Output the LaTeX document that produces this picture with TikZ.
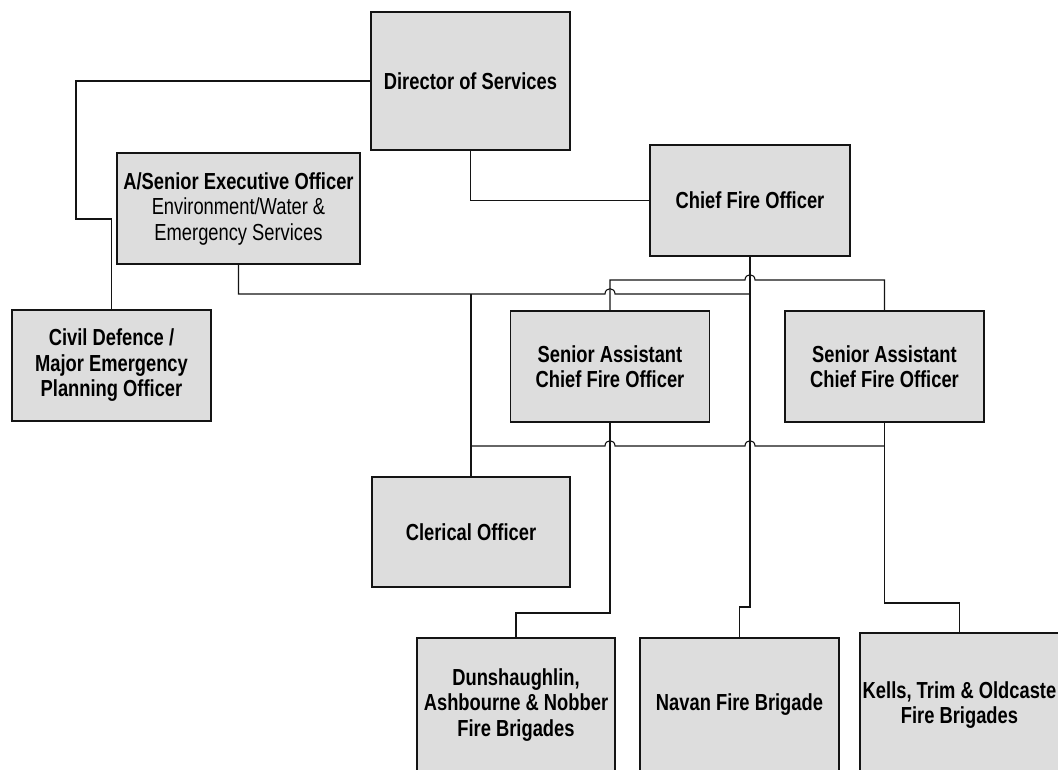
\documentclass[tikz,border=0pt]{standalone}
\usepackage{fontspec}
\setmainfont{Liberation Sans}[FakeStretch=0.79]
\usetikzlibrary{calc}
\definecolor{boxgray}{HTML}{DDDDDD}
\definecolor{edge}{HTML}{141414}
\begin{document}
\begin{tikzpicture}[x=1pt,y=-1pt,
  box/.style={draw=edge, line width=1.7pt, fill=boxgray, inner sep=0pt, align=center,
    font=\fontsize{23.2pt}{25.5pt}\selectfont\bfseries},
  conn/.style={draw=edge, line width=1.1pt}]
\useasboundingbox (0,0) rectangle (1058,769);
\clip (0,0) rectangle (1058,769);
\fill[white] (0,0) rectangle (1058,769);
% coordinates of the buses
\coordinate (y219) at (76,219);
\coordinate (y280) at (0,280);
\coordinate (y294) at (0,294);
\coordinate (y446) at (0,446);
\coordinate (y603) at (0,603);
\coordinate (y607) at (0,607);
\coordinate (y613) at (0,613);
% boxes
\node[box, minimum width=199pt, minimum height=138pt] (dir) at (470.5,81) {Director of Services};
\node[box, minimum width=200pt, minimum height=111pt] (cfo) at (750,200.5) {Chief Fire Officer};
\node[box, minimum width=243pt, minimum height=111pt] (aseo) at (238.5,208.5)
  {A/Senior Executive Officer\\{\mdseries Environment/Water \&}\\{\mdseries Emergency Services}};
\node[box, minimum width=199pt, minimum height=111pt] (cd) at (111.5,365.5)
  {Civil Defence /\\Major Emergency\\Planning Officer};
\node[box, minimum width=199pt, minimum height=111pt] (sa1) at (610,366.5)
  {Senior Assistant\\Chief Fire Officer};
\node[box, minimum width=199pt, minimum height=111pt] (sa2) at (884.5,366.5)
  {Senior Assistant\\Chief Fire Officer};
\node[box, minimum width=198pt, minimum height=110pt] (cler) at (471,532) {Clerical Officer};
\node[box, minimum width=198pt, minimum height=134pt] (dun) at (516,705)
  {Dunshaughlin,\\Ashbourne \& Nobber\\Fire Brigades};
\node[box, minimum width=199pt, minimum height=134pt] (nav) at (739.5,705) {Navan Fire Brigade};
\node[box, minimum width=199pt, minimum height=144pt] (kel) at (959.5,705)
  {Kells, Trim \& Oldcaste\\Fire Brigades};
% connectors
\draw[conn] (dir.west) -| (y219) -| (cd.north);
\draw[conn] (dir.south) |- (cfo.west);
\coordinate (bus1) at (cfo.south |- y294);
\draw[conn] (aseo.south) |- (605,294) .. controls (605,287) and (615,287) .. (615,294) -- (bus1);
\draw[conn] (cfo.south) -- (cfo.south |- y607) -| (nav.north);
\draw[conn] (sa1.north) |- (745,280) .. controls (745,273) and (755,273) .. (755,280) -| (sa2.north);
\draw[conn] (cler.north |- y294) -- (cler.north);
\draw[conn] (cler.north |- y446) -- (605,446) .. controls (605,439) and (615,439) .. (615,446)
  -- (745,446) .. controls (745,439) and (755,439) .. (755,446) -- (sa2.south |- y446);
\draw[conn] (sa2.south) -- (sa2.south |- y603) -| (kel.north);
\draw[conn] (sa1.south) -- (sa1.south |- y613) -| (dun.north);
\end{tikzpicture}
\end{document}
